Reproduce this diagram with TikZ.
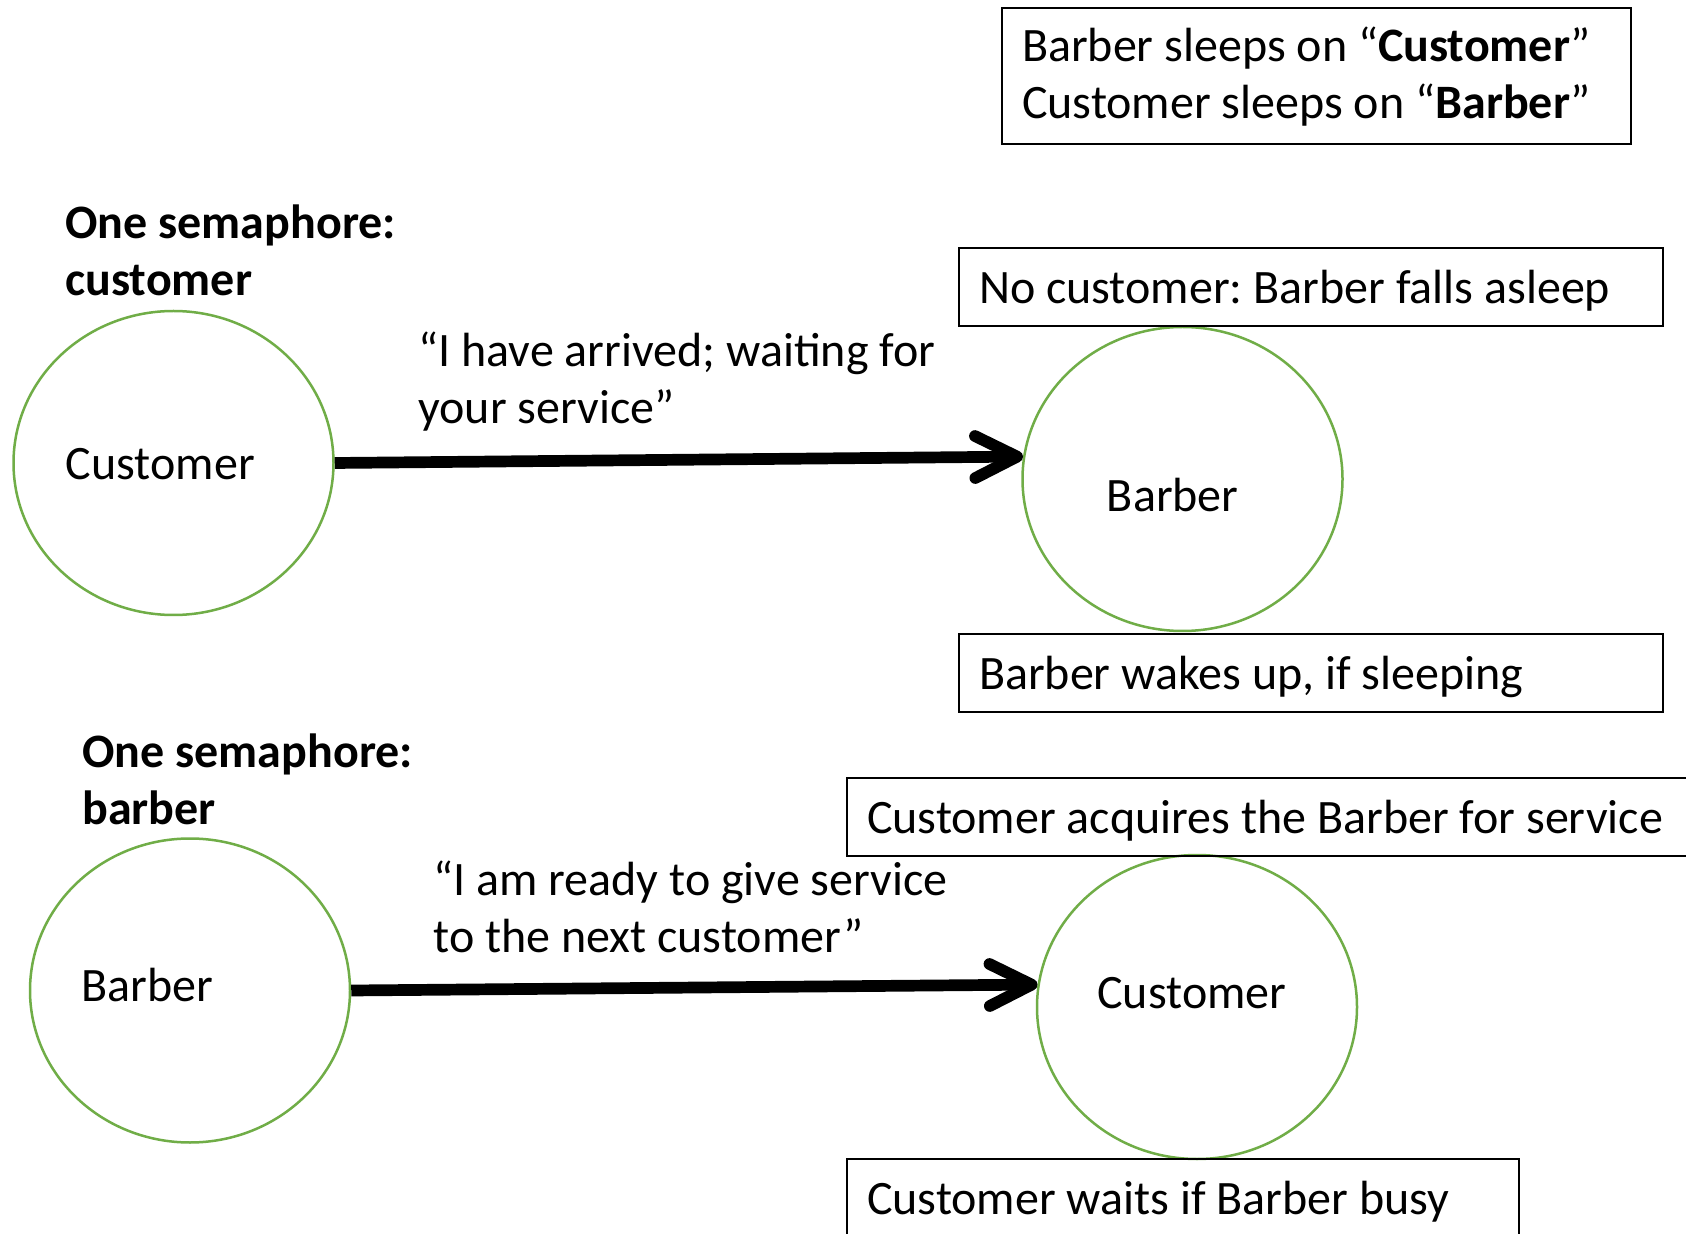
\documentclass[tikz,border=0pt]{standalone}
\usepackage{fontspec}
\setmainfont{Carlito}
\usetikzlibrary{arrows.meta,shapes.geometric,calc}
\definecolor{circgreen}{HTML}{70AD47}
\begin{document}
\begin{tikzpicture}[x=0.5pt,y=-0.5pt,
  font=\fontsize{24pt}{28.5pt}\selectfont\frenchspacing,
  circ/.style={ellipse, draw=circgreen, line width=1.25pt, minimum width=160pt, minimum height=152pt, inner sep=0pt},
  txt/.style={inner sep=0pt, anchor=base west, align=flush left},
  head/.style={txt, font=\fontsize{24pt}{28.5pt}\selectfont\frenchspacing\bfseries},
  box/.style={draw=black, line width=1pt, anchor=north west, inner xsep=10pt, inner ysep=0pt, align=flush left, text height=17.75pt, text depth=1.5pt, minimum height=39pt},
  conn/.style={line width=5.85pt, -{Straight Barb[length=21pt,width=21pt,round]}}
]
\useasboundingbox (0,0) rectangle (1686,1234);
\fill[white] (0,0) rectangle (1686,1234);

% legend box
\node[box, text width=294.5pt, text height=18pt, text depth=32pt, minimum height=68pt] (legend) at (1001,7)
  {Barber sleeps on “\textbf{Customer}”\\Customer sleeps on “\textbf{Barber}”};

% first semaphore (base anchor = last line)
\node[head] (h1) at (65,296) {One semaphore:\\customer};
\node[circ] (c1) at (173.5,463) {};
\node[txt] (c1t) at ($(c1.center)+(-108,17)$) {Customer};
\node[circ] (b1) at (1182.5,479) {};
\node[txt] (b1t) at ($(b1.center)+(-76,33)$) {Barber};
\node[box, text width=332pt] (nocust) at (958,247) {No customer: Barber falls asleep};
\node[box, text width=332pt, minimum height=39pt] (wakes) at (958,633) {Barber wakes up, if sleeping};
\draw[conn] (c1.east) -- (b1.172);
\node[txt] (l1) at (418,424) {“I have arrived; waiting for\\your service”};

% second semaphore
\node[head] (h2) at (82,824) {One semaphore:\\barber};
\node[circ] (b2) at (190,990.5) {};
\node[txt] (b2t) at ($(b2.center)+(-109,11)$) {Barber};
\node[circ] (c2) at (1197,1007) {};
\node[txt] (c2t) at ($(c2.center)+(-100,1)$) {Customer};
\node[box, text width=405pt] (acq) at (846,777) {Customer acquires the Barber for service};
\node[box, text width=316pt] (waits) at (846,1158) {Customer waits if Barber busy};
\draw[conn] (b2.east) -- (c2.172);
\node[txt] (l2) at (433,952) {“I am ready to give service\\to the next customer”};
\end{tikzpicture}
\end{document}
